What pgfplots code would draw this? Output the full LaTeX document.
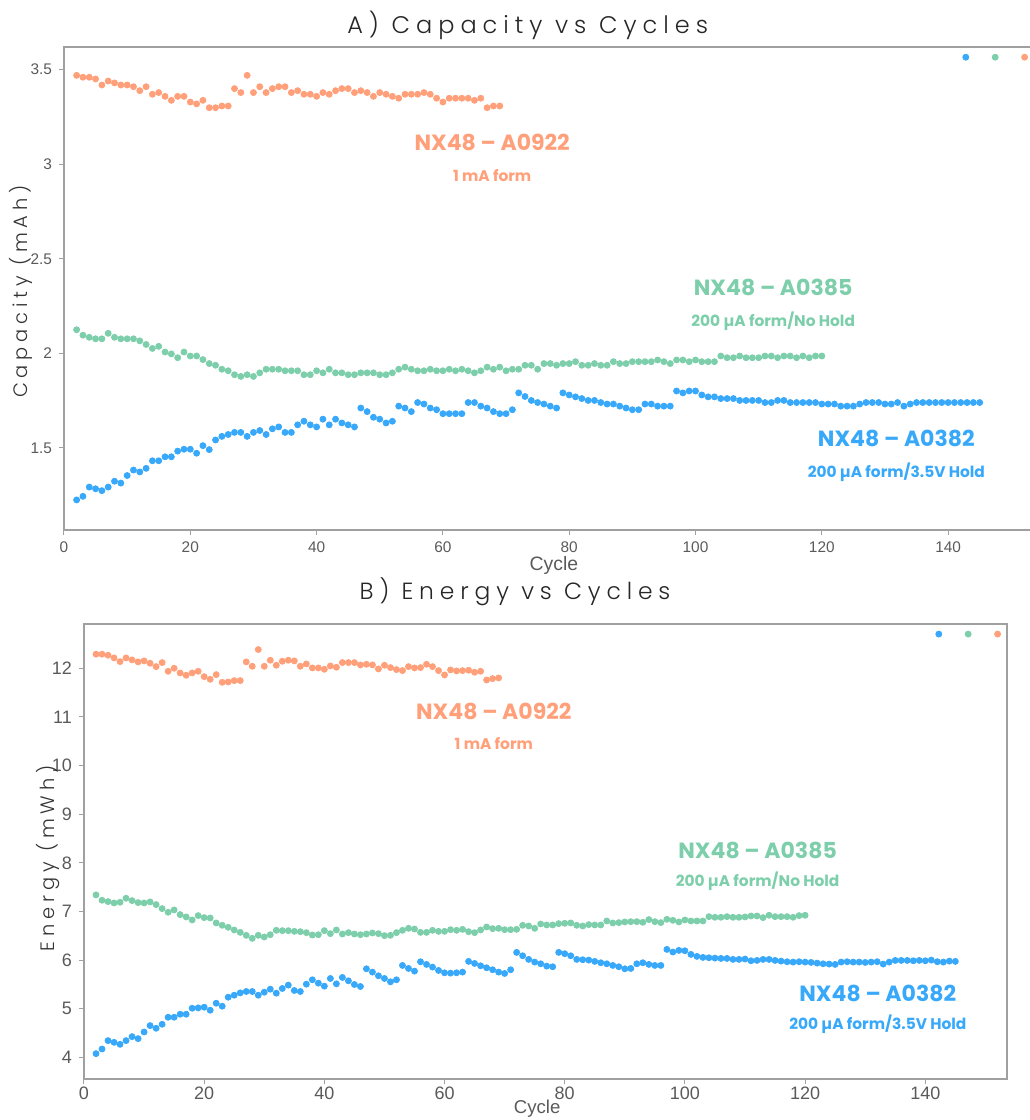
\documentclass[border=0pt]{standalone}
\usepackage{pgfplots}
\pgfplotsset{compat=1.18}
\usepackage{fontspec}
\setmainfont{Liberation Sans}
\newfontfamily\titlefont[LetterSpace=25]{Poppins Light}
\newfontfamily\annfont{Poppins}
\definecolor{orng}{RGB}{255,160,122}
\definecolor{grn}{RGB}{125,206,170}
\definecolor{blu}{RGB}{55,168,250}
\definecolor{tickgray}{RGB}{90,90,90}
\definecolor{framegray}{RGB}{160,160,160}

\pgfplotsset{
  base/.style={
    scale only axis,
    axis line style={framegray, line width=0.6pt},
    tick style={framegray, line width=0.5pt},
    tick align=outside,
    major tick length=2.5pt,
    xtick pos=bottom, ytick pos=left,
    xmin=0, xmax=153.6,
    xtick={0,20,...,140},
    /pgf/number format/assume math mode=true,
    tick label style={text=tickgray},
    legend columns=3,
    legend style={draw=none, fill=none, at={(rel axis cs:1,0.995)}, anchor=north east, xshift=1.2pt,
      /tikz/every even column/.append style={column sep=10.3pt}, nodes={inner sep=0pt}},
    legend image code/.code={\fill (0pt,0pt) circle (1.5pt);},
  },
  pts/.style={only marks, mark=*, mark size=1.5pt, mark options={draw=none}},
}

\begin{document}
\begin{tikzpicture}
\useasboundingbox (0,0) rectangle (514.5pt,560pt);
% ================= A) Capacity =================
\begin{axis}[base,
  at={(32pt,295pt)}, anchor=south west,
  width=485pt, height=241.5pt,
  ymin=1.066, ymax=3.62,
  ytick={1.5,2,2.5,3,3.5},
  yticklabels={1.5,2,2.5,3,3.5},
  tick label style={font=\fontsize{7.7}{9}\selectfont},
  xlabel={Cycle},
  xlabel style={font=\fontsize{9.7}{11}\selectfont, text=tickgray, at={(rel axis cs:0.505,0)}, anchor=north, yshift=-9.5pt},
  ylabel={\titlefont Capacity (mAh)},
  ylabel style={font=\fontsize{9.7}{11}\selectfont, text=black!80, at={(rel axis cs:-0.0444,0.4935)}, anchor=center, rotate=0},
  title={\titlefont A) Capacity vs Cycles},
  title style={font=\fontsize{12}{14}\selectfont, text=black!85, at={(rel axis cs:0.478,1.0207)}, anchor=center, yshift=0pt},
]
\addplot[pts, blu] coordinates {
(2,1.225)(3,1.244)(4,1.293)(5,1.284)(6,1.274)(7,1.293)(8,1.324)(9,1.314)(10,1.354)(11,1.383)
(12,1.373)(13,1.392)(14,1.432)(15,1.432)(16,1.453)(17,1.453)(18,1.483)(19,1.493)(20,1.493)(21,1.472)
(22,1.512)(23,1.491)(24,1.542)(25,1.561)(26,1.571)(27,1.582)(28,1.582)(29,1.561)(30,1.582)(31,1.592)
(32,1.571)(33,1.601)(34,1.611)(35,1.582)(36,1.582)(37,1.622)(38,1.641)(39,1.622)(40,1.611)(41,1.652)
(42,1.622)(43,1.652)(44,1.632)(45,1.622)(46,1.611)(47,1.711)(48,1.692)(49,1.662)(50,1.652)(51,1.632)
(52,1.641)(53,1.721)(54,1.711)(55,1.692)(56,1.740)(57,1.732)(58,1.711)(59,1.702)(60,1.681)(61,1.681)
(62,1.681)(63,1.681)(64,1.740)(65,1.740)(66,1.721)(67,1.711)(68,1.692)(69,1.681)(70,1.681)(71,1.702)
(72,1.791)(73,1.772)(74,1.751)(75,1.740)(76,1.732)(77,1.721)(78,1.711)(79,1.791)(80,1.780)(81,1.770)
(82,1.761)(83,1.751)(84,1.751)(85,1.740)(86,1.732)(87,1.732)(88,1.721)(89,1.711)(90,1.702)(91,1.702)
(92,1.732)(93,1.732)(94,1.721)(95,1.721)(96,1.721)(97,1.801)(98,1.791)(99,1.801)(100,1.801)(101,1.780)
(102,1.770)(103,1.770)(104,1.761)(105,1.761)(106,1.761)(107,1.751)(108,1.751)(109,1.751)(110,1.751)(111,1.740)
(112,1.740)(113,1.751)(114,1.751)(115,1.740)(116,1.740)(117,1.740)(118,1.740)(119,1.740)(120,1.732)(121,1.732)
(122,1.732)(123,1.721)(124,1.721)(125,1.721)(126,1.732)(127,1.740)(128,1.740)(129,1.740)(130,1.732)(131,1.732)
(132,1.740)(133,1.721)(134,1.732)(135,1.740)(136,1.740)(137,1.740)(138,1.740)(139,1.740)(140,1.740)(141,1.740)
(142,1.740)(143,1.740)(144,1.740)(145,1.740)
};
\addlegendentry{}
\addplot[pts, grn] coordinates {
(2,2.125)(3,2.096)(4,2.085)(5,2.077)(6,2.077)(7,2.106)(8,2.085)(9,2.077)(10,2.077)(11,2.077)
(12,2.066)(13,2.047)(14,2.026)(15,2.037)(16,2.007)(17,1.997)(18,1.977)(19,2.007)(20,1.986)(21,1.986)
(22,1.967)(23,1.946)(24,1.937)(25,1.916)(26,1.908)(27,1.887)(28,1.878)(29,1.887)(30,1.878)(31,1.897)
(32,1.916)(33,1.916)(34,1.916)(35,1.908)(36,1.908)(37,1.908)(38,1.887)(39,1.887)(40,1.908)(41,1.897)
(42,1.916)(43,1.897)(44,1.897)(45,1.887)(46,1.887)(47,1.897)(48,1.897)(49,1.897)(50,1.887)(51,1.887)
(52,1.897)(53,1.916)(54,1.927)(55,1.916)(56,1.908)(57,1.908)(58,1.916)(59,1.908)(60,1.908)(61,1.916)
(62,1.908)(63,1.916)(64,1.908)(65,1.897)(66,1.908)(67,1.927)(68,1.916)(69,1.927)(70,1.908)(71,1.916)
(72,1.916)(73,1.937)(74,1.937)(75,1.916)(76,1.946)(77,1.946)(78,1.937)(79,1.946)(80,1.946)(81,1.956)
(82,1.937)(83,1.937)(84,1.946)(85,1.937)(86,1.937)(87,1.956)(88,1.946)(89,1.946)(90,1.956)(91,1.956)
(92,1.956)(93,1.956)(94,1.965)(95,1.956)(96,1.946)(97,1.965)(98,1.965)(99,1.956)(100,1.965)(101,1.956)
(102,1.956)(103,1.956)(104,1.986)(105,1.977)(106,1.977)(107,1.986)(108,1.977)(109,1.977)(110,1.977)(111,1.986)
(112,1.986)(113,1.977)(114,1.986)(115,1.986)(116,1.977)(117,1.986)(118,1.977)(119,1.986)(120,1.986)
};
\addlegendentry{}
\addplot[pts, orng] coordinates {
(2,3.470)(3,3.460)(4,3.460)(5,3.451)(6,3.419)(7,3.440)(8,3.430)(9,3.419)(10,3.419)(11,3.410)
(12,3.389)(13,3.410)(14,3.370)(15,3.379)(16,3.359)(17,3.338)(18,3.359)(19,3.359)(20,3.329)(21,3.319)
(22,3.338)(23,3.299)(24,3.299)(25,3.308)(26,3.308)(27,3.400)(28,3.379)(29,3.470)(30,3.379)(31,3.410)
(32,3.379)(33,3.400)(34,3.410)(35,3.410)(36,3.379)(37,3.389)(38,3.370)(39,3.370)(40,3.359)(41,3.379)
(42,3.370)(43,3.389)(44,3.400)(45,3.400)(46,3.379)(47,3.389)(48,3.379)(49,3.359)(50,3.379)(51,3.370)
(52,3.359)(53,3.349)(54,3.370)(55,3.370)(56,3.370)(57,3.379)(58,3.370)(59,3.349)(60,3.329)(61,3.349)
(62,3.349)(63,3.349)(64,3.349)(65,3.338)(66,3.349)(67,3.299)(68,3.308)(69,3.308)
};
\addlegendentry{}
\node[text=orng, font=\annfont\bfseries\fontsize{11}{13}\selectfont] at (axis cs:67.8,3.115) {NX48 – A0922};
\node[text=orng, font=\annfont\bfseries\fontsize{7.7}{9}\selectfont] at (axis cs:67.8,2.94) {1 mA form};
\node[text=grn, font=\annfont\bfseries\fontsize{11}{13}\selectfont] at (axis cs:112.3,2.348) {NX48 – A0385};
\node[text=grn, font=\annfont\bfseries\fontsize{7.7}{9}\selectfont] at (axis cs:112.3,2.168) {200 µA form/No Hold};
\node[text=blu, font=\annfont\bfseries\fontsize{11}{13}\selectfont] at (axis cs:131.8,1.549) {NX48 – A0382};
\node[text=blu, font=\annfont\bfseries\fontsize{7.7}{9}\selectfont] at (axis cs:131.8,1.369) {200 µA form/3.5V Hold};
\end{axis}
% ================= B) Energy =================
\begin{axis}[base,
  at={(42pt,20.5pt)}, anchor=south west,
  width=461.5pt, height=227.5pt,
  ymin=3.555, ymax=12.91,
  ytick={4,5,...,12},
  tick label style={font=\fontsize{9}{10}\selectfont},
  xticklabel style={yshift=2pt},
  xlabel={Cycle},
  xlabel style={font=\fontsize{9.3}{11}\selectfont, text=tickgray, at={(rel axis cs:0.491,0)}, anchor=north, yshift=-9.3pt, inner sep=0.8pt},
  ylabel={\titlefont Energy (mWh)},
  ylabel style={font=\fontsize{9.7}{11}\selectfont, text=black!80, at={(rel axis cs:-0.0387,0.485)}, anchor=center, rotate=0},
  title={\titlefont B) Energy vs Cycles},
  title style={font=\fontsize{11.7}{14}\selectfont, text=black!85, at={(rel axis cs:0.467,1.044)}, anchor=center, yshift=0pt},
]
\addplot[pts, blu] coordinates {
(2,4.076)(3,4.172)(4,4.344)(5,4.309)(6,4.268)(7,4.344)(8,4.426)(9,4.385)(10,4.522)(11,4.653)
(12,4.598)(13,4.680)(14,4.825)(15,4.825)(16,4.887)(17,4.887)(18,5.010)(19,5.017)(20,5.031)(21,4.969)
(22,5.113)(23,5.052)(24,5.237)(25,5.278)(26,5.326)(27,5.354)(28,5.354)(29,5.278)(30,5.340)(31,5.402)
(32,5.320)(33,5.416)(34,5.485)(35,5.375)(36,5.354)(37,5.505)(38,5.595)(39,5.526)(40,5.464)(41,5.622)
(42,5.512)(43,5.643)(44,5.574)(45,5.498)(46,5.457)(47,5.821)(48,5.753)(49,5.677)(50,5.622)(51,5.553)
(52,5.595)(53,5.890)(54,5.828)(55,5.773)(56,5.966)(57,5.911)(58,5.856)(59,5.787)(60,5.739)(61,5.732)
(62,5.739)(63,5.753)(64,5.973)(65,5.931)(66,5.883)(67,5.842)(68,5.801)(69,5.753)(70,5.725)(71,5.801)
(72,6.158)(73,6.089)(74,6.014)(75,5.959)(76,5.924)(77,5.876)(78,5.863)(79,6.158)(80,6.131)(81,6.089)
(82,6.014)(83,6.007)(84,6.000)(85,5.973)(86,5.945)(87,5.924)(88,5.890)(89,5.863)(90,5.821)(91,5.828)
(92,5.924)(93,5.945)(94,5.911)(95,5.890)(96,5.890)(97,6.220)(98,6.165)(99,6.199)(100,6.192)(101,6.117)
(102,6.076)(103,6.055)(104,6.048)(105,6.041)(106,6.034)(107,6.034)(108,6.014)(109,6.014)(110,6.021)(111,5.986)
(112,5.993)(113,6.014)(114,6.014)(115,5.993)(116,5.979)(117,5.966)(118,5.959)(119,5.966)(120,5.959)(121,5.952)
(122,5.938)(123,5.924)(124,5.918)(125,5.911)(126,5.959)(127,5.966)(128,5.959)(129,5.959)(130,5.952)(131,5.959)
(132,5.966)(133,5.918)(134,5.959)(135,5.993)(136,5.993)(137,5.993)(138,5.986)(139,5.993)(140,5.986)(141,6.000)
(142,5.966)(143,5.959)(144,5.979)(145,5.973)
};
\addlegendentry{}
\addplot[pts, grn] coordinates {
(2,7.340)(3,7.230)(4,7.203)(5,7.175)(6,7.189)(7,7.271)(8,7.223)(9,7.182)(10,7.175)(11,7.196)
(12,7.141)(13,7.058)(14,6.983)(15,7.031)(16,6.935)(17,6.887)(18,6.825)(19,6.914)(20,6.873)(21,6.866)
(22,6.763)(23,6.715)(24,6.674)(25,6.619)(26,6.570)(27,6.509)(28,6.447)(29,6.509)(30,6.474)(31,6.522)
(32,6.612)(33,6.605)(34,6.605)(35,6.591)(36,6.584)(37,6.564)(38,6.515)(39,6.522)(40,6.605)(41,6.543)
(42,6.619)(43,6.536)(44,6.564)(45,6.536)(46,6.522)(47,6.536)(48,6.557)(49,6.543)(50,6.502)(51,6.509)
(52,6.564)(53,6.612)(54,6.653)(55,6.639)(56,6.570)(57,6.570)(58,6.612)(59,6.591)(60,6.591)(61,6.625)
(62,6.612)(63,6.632)(64,6.584)(65,6.564)(66,6.619)(67,6.680)(68,6.646)(69,6.653)(70,6.625)(71,6.625)
(72,6.632)(73,6.715)(74,6.701)(75,6.653)(76,6.742)(77,6.722)(78,6.722)(79,6.749)(80,6.756)(81,6.763)
(82,6.715)(83,6.701)(84,6.729)(85,6.722)(86,6.722)(87,6.804)(88,6.763)(89,6.770)(90,6.784)(91,6.790)
(92,6.790)(93,6.777)(94,6.832)(95,6.790)(96,6.770)(97,6.838)(98,6.818)(99,6.784)(100,6.825)(101,6.804)
(102,6.804)(103,6.804)(104,6.893)(105,6.880)(106,6.880)(107,6.893)(108,6.880)(109,6.880)(110,6.887)(111,6.907)
(112,6.907)(113,6.873)(114,6.921)(115,6.893)(116,6.893)(117,6.893)(118,6.880)(119,6.914)(120,6.921)
};
\addlegendentry{}
\addplot[pts, orng] coordinates {
(2,12.289)(3,12.289)(4,12.268)(5,12.213)(6,12.137)(7,12.213)(8,12.172)(9,12.131)(10,12.151)(11,12.103)
(12,12.034)(13,12.117)(14,11.938)(15,12.000)(16,11.904)(17,11.856)(18,11.904)(19,11.938)(20,11.828)(21,11.773)
(22,11.869)(23,11.711)(24,11.718)(25,11.746)(26,11.746)(27,12.131)(28,12.041)(29,12.385)(30,12.041)(31,12.165)
(32,12.062)(33,12.144)(34,12.165)(35,12.151)(36,12.041)(37,12.089)(38,12.007)(39,12.007)(40,11.979)(41,12.048)
(42,12.021)(43,12.117)(44,12.117)(45,12.117)(46,12.069)(47,12.082)(48,12.069)(49,11.986)(50,12.062)(51,12.014)
(52,11.973)(53,11.952)(54,12.034)(55,12.007)(56,12.014)(57,12.082)(58,12.034)(59,11.952)(60,11.863)(61,11.966)
(62,11.945)(63,11.952)(64,11.959)(65,11.918)(66,11.938)(67,11.759)(68,11.787)(69,11.801)
};
\addlegendentry{}
\node[text=orng, font=\annfont\bfseries\fontsize{11}{13}\selectfont] at (axis cs:68.2,11.107) {NX48 – A0922};
\node[text=orng, font=\annfont\bfseries\fontsize{7.7}{9}\selectfont] at (axis cs:68.2,10.447) {1 mA form};
\node[text=grn, font=\annfont\bfseries\fontsize{11}{13}\selectfont] at (axis cs:112.1,8.26) {NX48 – A0385};
\node[text=grn, font=\annfont\bfseries\fontsize{7.7}{9}\selectfont] at (axis cs:112.1,7.62) {200 µA form/No Hold};
\node[text=blu, font=\annfont\bfseries\fontsize{11}{13}\selectfont] at (axis cs:132.1,5.313) {NX48 – A0382};
\node[text=blu, font=\annfont\bfseries\fontsize{7.7}{9}\selectfont] at (axis cs:132.1,4.674) {200 µA form/3.5V Hold};
\end{axis}
\end{tikzpicture}
\end{document}
